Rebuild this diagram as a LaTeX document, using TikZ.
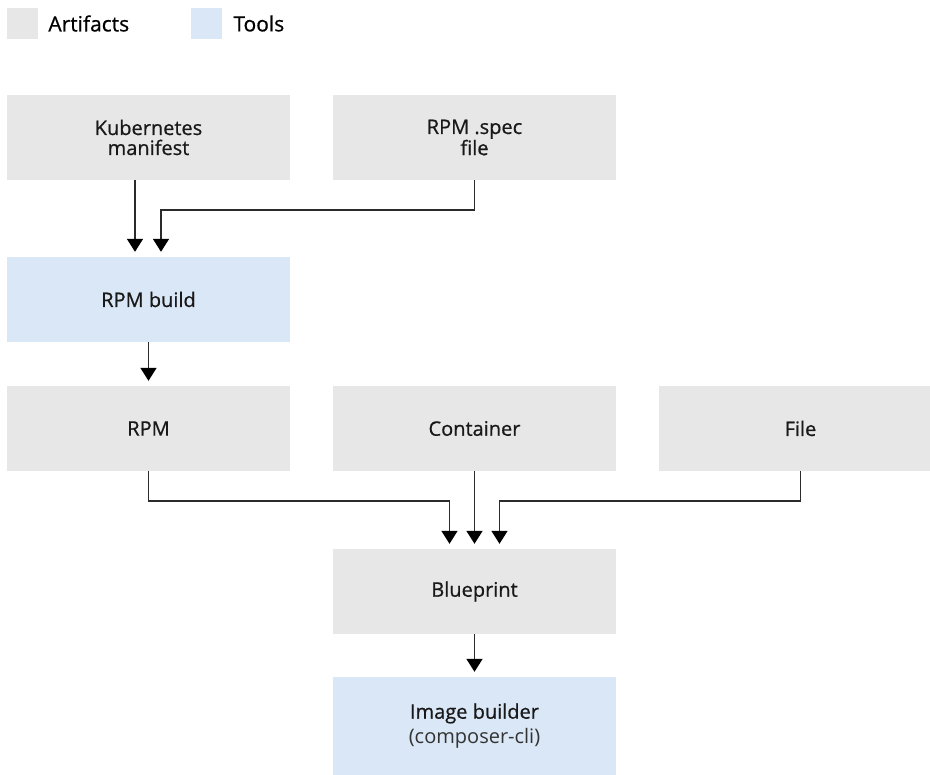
\documentclass[tikz,border=0pt]{standalone}
\usepackage{fontspec}
\setmainfont{Open Sans}
\newfontfamily\labelfont{Open Sans}[FakeBold=0.7]
\usetikzlibrary{arrows.meta, positioning}

\definecolor{artgray}{HTML}{E7E7E7}
\definecolor{toolblue}{HTML}{DAE7F6}
\definecolor{linegray}{HTML}{2B2B2B}

\begin{document}
\begin{tikzpicture}[x=1pt, y=-1pt,
	box/.style={minimum width=283pt, minimum height=85pt, inner sep=0pt,
		align=center, font=\labelfont\fontsize{20}{20}\selectfont, text=black!90},
	artifact/.style={box, fill=artgray},
	tool/.style={box, fill=toolblue},
	flow/.style={draw=linegray, line width=1.8pt, shorten >=5pt,
		-{Triangle[width=16pt, length=13pt, color=black]}},
	key/.style={minimum size=31pt, inner sep=0pt},
	keytext/.style={anchor=west, inner sep=0pt,
		font=\labelfont\fontsize{21}{22}\selectfont}]

	\useasboundingbox (0,0) rectangle (930,775);

	% legend
	\node[key, fill=artgray] (keyart) at (22.5,23.5) {};
	\node[keytext, right=10pt of keyart] (keyarttext) {Artifacts};
	\node[key, fill=toolblue] (keytool) at (206.5,23.5) {};
	\node[keytext, right=11pt of keytool] (keytooltext) {Tools};

	% boxes
	\node[artifact] (kube) at (148.5,137.5) {Kubernetes\\manifest};
	\node[artifact] (spec) at (474.5,137.5) {RPM .spec\\file};
	\node[tool] (rpmbuild) at (148.5,299.5) {RPM build};
	\node[artifact] (rpm) at (148.5,428.5) {RPM};
	\node[artifact] (container) at (474.5,428.5) {Container};
	\node[artifact] (file) at (800.5,428.5) {File};
	\node[artifact] (blueprint) at (474.5,591.5) {Blueprint};
	\node[tool, minimum height=98pt] (imgbuilder) at (474.5,726)
		{Image builder\\[5pt]{\normalfont\fontsize{20}{20}\selectfont\color{black!80}(composer-cli)}};

	% arrows
	\draw[flow] ([xshift=-13.5pt]kube.south) -- ([xshift=-13.5pt]rpmbuild.north);
	\draw[flow] (spec.south) -- ++(0,30) -| ([xshift=12.5pt]rpmbuild.north);
	\draw[flow] (rpmbuild.south) -- (rpm.north);
	\draw[flow] (rpm.south) -- ++(0,30) -| ([xshift=-25pt]blueprint.north);
	\draw[flow] (container.south) -- (blueprint.north);
	\draw[flow] (file.south) -- ++(0,30) -| ([xshift=25pt]blueprint.north);
	\draw[flow] (blueprint.south) -- (imgbuilder.north);

\end{tikzpicture}
\end{document}
